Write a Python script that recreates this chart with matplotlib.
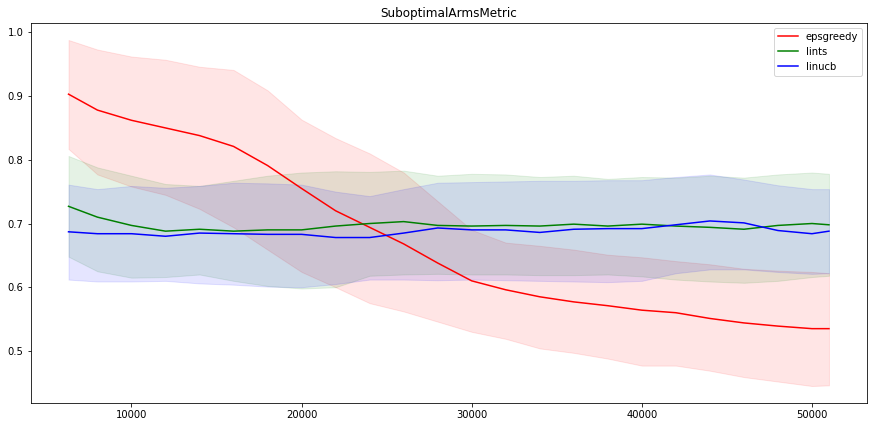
import numpy as np
import matplotlib
matplotlib.use('Agg')
import matplotlib.pyplot as plt

# trial index
x = [6300, 8000, 10000, 12000, 14000, 16000, 18000, 20000, 22000, 24000, 26000, 28000,
     30000, 32000, 34000, 36000, 38000, 40000, 42000, 44000, 46000, 48000, 50000, 51000]

# epsgreedy: mean and band
eps_mean = [0.903, 0.878, 0.862, 0.850, 0.838, 0.821, 0.791, 0.755, 0.720, 0.694, 0.668, 0.638,
            0.610, 0.596, 0.585, 0.577, 0.571, 0.564, 0.560, 0.551, 0.544, 0.539, 0.535, 0.535]
eps_hi = [0.988, 0.973, 0.962, 0.957, 0.946, 0.941, 0.909, 0.863, 0.834, 0.810, 0.780, 0.735,
          0.690, 0.670, 0.665, 0.659, 0.651, 0.647, 0.641, 0.636, 0.629, 0.626, 0.624, 0.622]
eps_lo = [0.817, 0.777, 0.758, 0.745, 0.723, 0.694, 0.659, 0.624, 0.600, 0.575, 0.562, 0.546,
          0.530, 0.519, 0.504, 0.497, 0.488, 0.477, 0.477, 0.469, 0.459, 0.452, 0.445, 0.446]

# lints
ts_mean = [0.727, 0.710, 0.697, 0.688, 0.691, 0.688, 0.690, 0.690, 0.696, 0.700, 0.703, 0.697,
           0.696, 0.697, 0.696, 0.699, 0.696, 0.699, 0.696, 0.694, 0.691, 0.697, 0.700, 0.698]
ts_hi = [0.806, 0.788, 0.775, 0.762, 0.759, 0.767, 0.775, 0.780, 0.782, 0.781, 0.783, 0.775,
         0.778, 0.777, 0.773, 0.775, 0.770, 0.773, 0.772, 0.775, 0.772, 0.777, 0.780, 0.778]
ts_lo = [0.648, 0.625, 0.615, 0.616, 0.620, 0.610, 0.602, 0.598, 0.600, 0.618, 0.620, 0.621,
         0.620, 0.620, 0.619, 0.619, 0.620, 0.617, 0.612, 0.609, 0.607, 0.610, 0.616, 0.618]

# linucb
ucb_mean = [0.687, 0.684, 0.684, 0.680, 0.685, 0.684, 0.683, 0.683, 0.678, 0.678, 0.685, 0.693,
            0.690, 0.690, 0.686, 0.691, 0.692, 0.692, 0.698, 0.704, 0.701, 0.689, 0.684, 0.688]
ucb_hi = [0.761, 0.754, 0.759, 0.756, 0.759, 0.764, 0.763, 0.761, 0.750, 0.743, 0.754, 0.764,
          0.765, 0.766, 0.767, 0.767, 0.768, 0.768, 0.773, 0.777, 0.769, 0.760, 0.754, 0.754]
ucb_lo = [0.612, 0.609, 0.609, 0.610, 0.606, 0.604, 0.601, 0.600, 0.605, 0.612, 0.612, 0.611,
          0.612, 0.611, 0.610, 0.609, 0.608, 0.610, 0.622, 0.628, 0.628, 0.624, 0.621, 0.622]

series = [('epsgreedy', 'red', eps_mean, eps_lo, eps_hi),
          ('lints', 'green', ts_mean, ts_lo, ts_hi),
          ('linucb', 'blue', ucb_mean, ucb_lo, ucb_hi)]

fig = plt.figure(figsize=(874/72, 427/72), dpi=72)
ax = fig.add_axes([30.5/874, (427-403.3)/427, (867-30.5)/874, (403.3-22.7)/427])

for name, col, m, lo, hi in series:
    ax.plot(x, m, color=col, label=name, lw=1.5)
    ax.fill_between(x, lo, hi, color=col, alpha=0.1)

ax.set_title('SuboptimalArmsMetric', fontsize=12)
ax.tick_params(labelsize=10)
ax.legend(loc='upper right', fontsize=10)

fig.savefig('out.png', dpi=72)
